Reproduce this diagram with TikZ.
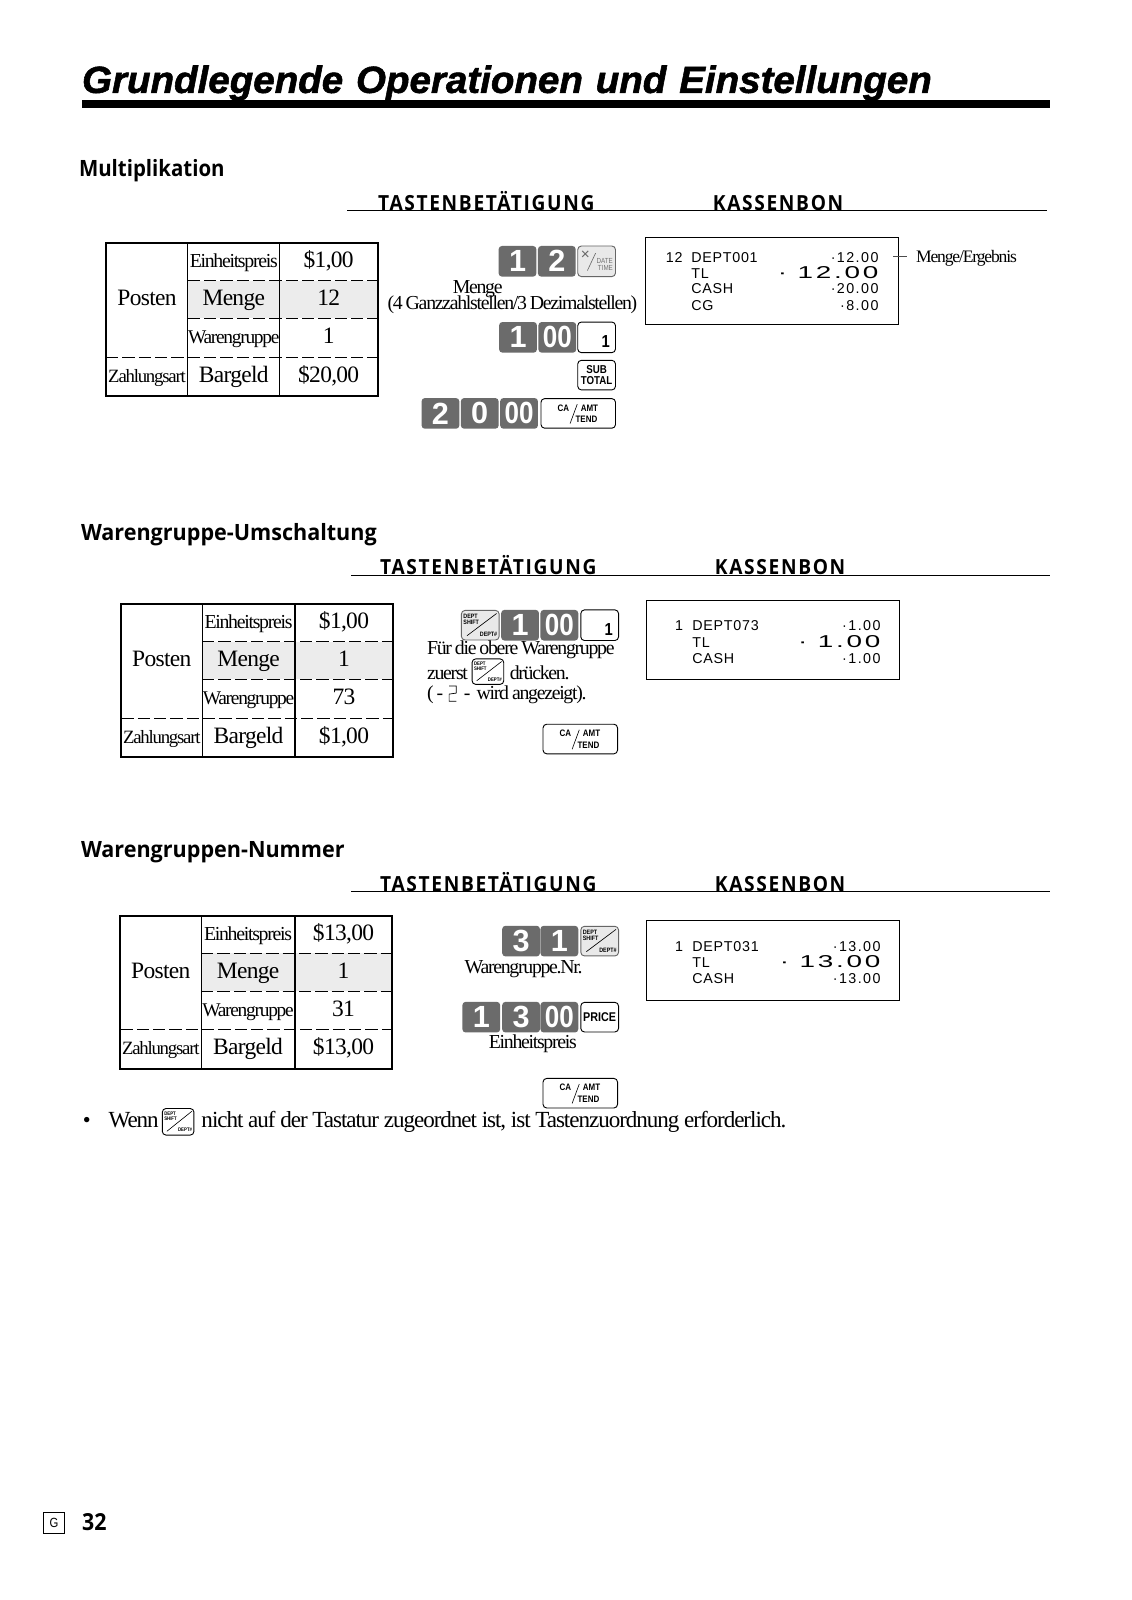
\documentclass[tikz,border=0pt]{standalone}
\usepackage{fontspec}
\setmainfont{Liberation Serif}[LetterSpace=-3]
\newfontfamily\serS{Liberation Serif}[LetterSpace=-6.5,WordSpace=0.8]
\newfontfamily\serM{Liberation Serif}[LetterSpace=-4.5]
\newfontfamily\titlef{Liberation Sans}[FakeStretch=1.02,WordSpace=1.2,FakeBold=1.5]
\newfontfamily\headf{Open Sans}[FakeStretch=0.91]
\newfontfamily\headw{Open Sans}[FakeStretch=0.96]
\newfontfamily\headg{Open Sans}[FakeStretch=0.92,LetterSpace=8]
\newfontfamily\keyf{Liberation Sans}[FakeStretch=0.85]
\newfontfamily\digf{Liberation Sans}
\newfontfamily\rcpt{Liberation Sans}[LetterSpace=5]
\newfontfamily\rcn{Liberation Sans}[LetterSpace=10]
\newcommand\myfs[1]{\fontsize{#1}{#1}\selectfont}
\definecolor{keygray}{HTML}{6B6B6B}
\definecolor{keylight}{HTML}{E9E9E9}
\definecolor{rowshade}{HTML}{ECECEC}
\tikzset{
 dk/.style={fill=keygray,rounded corners=1.6pt,inner sep=0pt,text=white,font=\digf\bfseries\myfs{15}},
 wk/.style={draw=black,fill=white,line width=.45pt,rounded corners=1.8pt,inner sep=0pt},
 lk/.style={draw=black!60,fill=keylight,line width=.45pt,rounded corners=1.8pt,inner sep=0pt},
 tx/.style={inner sep=0pt,text height=8.5pt,text depth=2pt},
 txs/.style={tx,font=\serS\myfs{9.7}},
 txb/.style={tx,font=\myfs{11.5}},
 rc/.style={inner sep=0pt,text height=5pt,text depth=0pt,font=\rcpt\myfs{7}},
 rn/.style={inner sep=0pt,text height=5pt,text depth=0pt,font=\rcn\myfs{7}},
 h1/.style={inner sep=0pt,anchor=base west,font=\headf\bfseries\myfs{11}},
 h1w/.style={inner sep=0pt,anchor=base west,font=\headw\bfseries\myfs{11}},
 h2/.style={inner sep=0pt,anchor=base west,font=\headg\bfseries\myfs{10.2}},
 mini/.style={inner sep=0pt,font=\keyf\bfseries\myfs{4.6}},
 outer/.style={line width=1pt},
 inner/.style={line width=.5pt},
 dsh/.style={line width=.5pt,dash pattern=on 6pt off 2pt},
}
% style name x y w h text
\newcommand\Key[7]{\node[#1,minimum width=#5*0.5pt,minimum height=#6*0.5pt] (#2) at (#3,#4) {#7};}
\newcommand\Dk[4]{\Key{dk}{#1}{#2}{#3}{37}{30}{#4}}
\newcommand\DD{{\keyf\bfseries 00}}
\newcommand\Ca[3]{\Key{wk}{#1}{#2}{#3}{73}{29}{}
 \node[mini] (#1a) at ([shift={(-14.5,-5.5)}]#1.center) {CA};
 \node[mini] (#1b) at ([shift={(11,-5.5)}]#1.center) {AMT};
 \node[mini] (#1c) at ([shift={(8,6)}]#1.center) {TEND};
 \draw[line width=.3pt] ([shift={(-8,10)}]#1.center) -- ([shift={(-1,-9)}]#1.center);}
\newcommand\One[3]{\Key{wk}{#1}{#2}{#3}{37}{30}{}
 \node[inner sep=0pt,font=\keyf\bfseries\myfs{8.5}] (#1a) at ([shift={(-10,20)}]#1.north east) {1};}
\newcommand\Dept[7]{\Key{#7}{#1}{#2}{#3}{#4}{#5}{}
 \draw[line width=.3pt] ([shift={(.16*#4,-.16*#5)}]#1.south west) -- ([shift={(-.08*#4,.12*#5)}]#1.north east);
 \node[inner sep=0pt,align=left,font=\keyf\bfseries\myfs{#6}] (#1a) at ([shift={(-.24*#4,-.2*#5)}]#1.center) {\baselineskip=.9\dimexpr#6pt\relax DEPT\\SHIFT};
 \node[inner sep=0pt,font=\keyf\bfseries\myfs{#6}] (#1b) at ([shift={(.22*#4,.3*#5)}]#1.center) {DEPT\#};}
% prefix x y c1 c2 v1 v2 v3 v4
\newcommand\Tbl[9]{
 \fill[rowshade] (#2+#4,#3+37) rectangle (#2+266,#3+74);
 \draw[outer] (#2,#3) rectangle (#2+266,#3+150);
 \draw[inner] (#2+#4,#3) -- (#2+#4,#3+150);
 \draw[inner] (#2+#5,#3) -- (#2+#5,#3+150);
 \draw[dsh] (#2+#4,#3+37) -- (#2+266,#3+37);
 \draw[dsh] (#2+#4,#3+74) -- (#2+266,#3+74);
 \draw[dsh] (#2,#3+112) -- (#2+266,#3+112);
 \node[txs] (#1a) at ({#2+(#4+#5)/2},#3+18) {Einheitspreis};
 \node[txb] (#1b) at ({#2+#4/2},#3+55) {Posten};
 \node[txb] (#1c) at ({#2+(#4+#5)/2},#3+55) {Menge};
 \node[tx,font=\serS\myfs{9.5}] (#1d) at ({#2+(#4+#5)/2},#3+92) {Warengruppe};
 \node[tx,font=\serS\myfs{9.2}] (#1e) at ({#2+#4/2},#3+130) {Zahlungsart};
 \node[txb] (#1f) at ({#2+(#4+#5)/2},#3+130) {Bargeld};
 \def\tcx{#2+(#5+266)/2}
 \def\tpy{#3}
 \TblVals{#1}{#6}{#7}{#8}{#9}}
\newcommand\TblVals[5]{
 \node[txb] (#1g) at ({\tcx},\tpy+18) {#2};
 \node[txb] (#1h) at ({\tcx},\tpy+55) {#3};
 \node[txb] (#1i) at ({\tcx},\tpy+92) {#4};
 \node[txb] (#1j) at ({\tcx},\tpy+130) {#5};}
\newcommand\Rl[4]{\node[rc,anchor=west] (#1) at (#2,#3) {#4};}
\newcommand\Rr[4]{\node[rn,anchor=east] (#1) at (#2,#3) {#4};}
\newcommand\BigAmt[4]{
 \node[inner sep=0pt,text height=6pt,text depth=0pt,anchor=east,font=\rcn\myfs{7}] (#1) at (#2,#3) {\scalebox{1.95}[1.2]{#4}};}
\begin{document}
\begin{tikzpicture}[x=.5pt,y=-.5pt]
\useasboundingbox (0,0) rectangle (1109,1567.5);
\fill[white] (0,0) rectangle (1109,1567.5);
% title
\node[inner sep=0pt,anchor=base west,font=\titlef\bfseries\itshape\myfs{18.5}] (title) at (80,91) {Grundlegende Operationen und Einstellungen};
\fill (80,98) rectangle (1029,106);
% section 1
\node[h1] (s1) at (77,173) {Multiplikation};
\draw[line width=.4pt] (340,206.5) -- (1026,206.5);
\node[h2] (t1) at (370,206) {TASTENBETÄTIGUNG};
\node[h2] (k1) at (698,206) {KASSENBON};
\Tbl{a}{104}{238}{80}{170}{\$1,00}{12}{1}{\$20,00}
\Dk{a1}{507}{256}{1}
\Dk{a2}{545.5}{256}{2}
\Key{lk}{ax}{584.5}{256}{37}{30}{}
\node[inner sep=0pt,text=black!60,font=\digf\myfs{7.5}] (axa) at ([shift={(-11,-6)}]ax.center) {×};
\draw[line width=.3pt,black!60] ([shift={(-9,9)}]ax.center) -- ([shift={(-1,-8)}]ax.center);
\node[inner sep=0pt,font=\keyf\myfs{3.6},text=black!55,align=right] (axb) at ([shift={(8,3)}]ax.center) {\baselineskip=5pt DATE\\TIME};
\node[txs] (am) at (468,281) {Menge};
\node[txs] (am2) at (502,297) {(4 Ganzzahlstellen/3 Dezimalstellen)};
\Dk{a3}{507.5}{330.5}{1}
\Dk{a4}{546}{330.5}{\DD}
\One{a5}{584.5}{330.5}
\Key{wk}{as}{584.5}{367.5}{37}{29}{}
\node[inner sep=0pt,align=center,font=\keyf\bfseries\myfs{5.6}] (asa) at (as.center) {\baselineskip=5.8pt SUB\\TOTAL};
\Dk{a6}{431.5}{405}{2}
\Dk{a7}{470}{405}{0}
\Dk{a8}{508.5}{405}{\DD}
\Ca{a9}{566.5}{405}
\draw[line width=.6pt] (632.5,233) rectangle (880.5,318);
\Rl{r1a}{652}{252}{12}
\Rl{r1c}{677}{252}{DEPT001}
\Rr{r1h}{861}{252}{·12.00}
\Rl{r1d}{677}{267.5}{TL}
\BigAmt{r1e}{861}{266.5}{· 12.00}
\Rl{r1f}{677}{283}{CASH}
\Rr{r1i}{861}{283}{·20.00}
\Rl{r1g}{677}{299}{CG}
\Rr{r1j}{861}{299}{·8.00}
\draw[line width=.5pt,black!70] (875,251) -- (889,251);
\node[tx,font=\serS\myfs{8.6},anchor=west] (me) at (897,251) {Menge/Ergebnis};
% section 2
\node[h1w] (s2) at (79,530) {Warengruppe-Umschaltung};
\draw[line width=.4pt] (344,563.5) -- (1029,563.5);
\node[h2] (t2) at (372,563) {TASTENBETÄTIGUNG};
\node[h2] (k2) at (700,563) {KASSENBON};
\Tbl{b}{119}{591.5}{79}{170}{\$1,00}{1}{73}{\$1,00}
\Dept{b1}{470.5}{612.5}{37}{29}{3.1}{lk}
\Dk{b2}{509.5}{612.5}{1}
\Dk{b3}{548}{612.5}{\DD}
\One{b4}{587.5}{612.5}
\node[txs,anchor=west] (b5) at (418,635) {Für die obere Warengruppe};
\node[txs,anchor=west] (b6) at (418,659) {zuerst};
\Dept{b7}{478}{658}{31}{25}{2.5}{wk}
\node[txs,anchor=west] (b8) at (499,659) {drücken.};
\node[txs,anchor=west] (b9) at (418,679) {( -};
\draw[line width=.35pt] (440,672) -- (447,672) -- (447,679) -- (440,680) -- (440,687) -- (447,687);
\node[txs,anchor=west] (b10) at (454,679) {-\ \,wird angezeigt).};
\Ca{b11}{568.5}{724}
\draw[line width=.6pt] (633.5,588) rectangle (881.5,666);
\Rl{r2a}{661}{613}{1}
\Rl{r2c}{678}{613}{DEPT073}
\Rr{r2h}{863}{613}{·1.00}
\Rl{r2d}{678}{629}{TL}
\BigAmt{r2e}{863}{628}{· 1.00}
\Rl{r2f}{678}{645}{CASH}
\Rr{r2i}{863}{645}{·1.00}
% section 3
\node[h1w] (s3) at (79,840) {Warengruppen-Nummer};
\draw[line width=.4pt] (344,873.5) -- (1029,873.5);
\node[h2] (t3) at (372,873) {TASTENBETÄTIGUNG};
\node[h2] (k3) at (700,873) {KASSENBON};
\Tbl{c}{118}{897}{79}{171}{\$13,00}{1}{31}{\$13,00}
\Dk{c1}{510.5}{922}{3}
\Dk{c2}{548}{922}{1}
\Dept{c3}{587.5}{922}{37}{29}{3.1}{lk}
\node[txs] (c4) at (513,947) {Warengruppe.Nr.};
\Dk{c5}{471.5}{996.5}{1}
\Dk{c6}{510.5}{996.5}{3}
\Dk{c7}{548}{996.5}{\DD}
\Key{wk}{c8}{587.5}{996.5}{37}{29}{\keyf\bfseries\myfs{6.2}PRICE}
\node[txs] (c9) at (522,1021) {Einheitspreis};
\Ca{c10}{568.5}{1071}
\draw[line width=.6pt] (633.5,902) rectangle (881.5,980);
\Rl{r3a}{661}{927}{1}
\Rl{r3c}{678}{927}{DEPT031}
\Rr{r3h}{863}{927}{·13.00}
\Rl{r3d}{678}{943}{TL}
\BigAmt{r3e}{863}{942}{· 13.00}
\Rl{r3f}{678}{959}{CASH}
\Rr{r3i}{863}{959}{·13.00}
% note
\node[tx,font=\myfs{11}] (n0) at (85,1098) {•};
\node[tx,font=\serM\myfs{11.3},anchor=west] (n1) at (106,1098) {Wenn};
\Dept{n2}{174.5}{1099}{31}{26}{2.5}{wk}
\node[tx,font=\serM\myfs{11.3},anchor=west] (n3) at (197,1098) {nicht auf der Tastatur zugeordnet ist, ist Tastenzuordnung erforderlich.};
% footer
\node[draw,line width=.4pt,minimum width=10pt,minimum height=10pt,inner sep=0pt,font=\keyf\myfs{6.5}] (g) at (53,1492) {G};
\node[inner sep=0pt,anchor=base west,font=\headf\bfseries\myfs{11.5}] (pn) at (80,1499) {32};
\end{tikzpicture}
\end{document}
